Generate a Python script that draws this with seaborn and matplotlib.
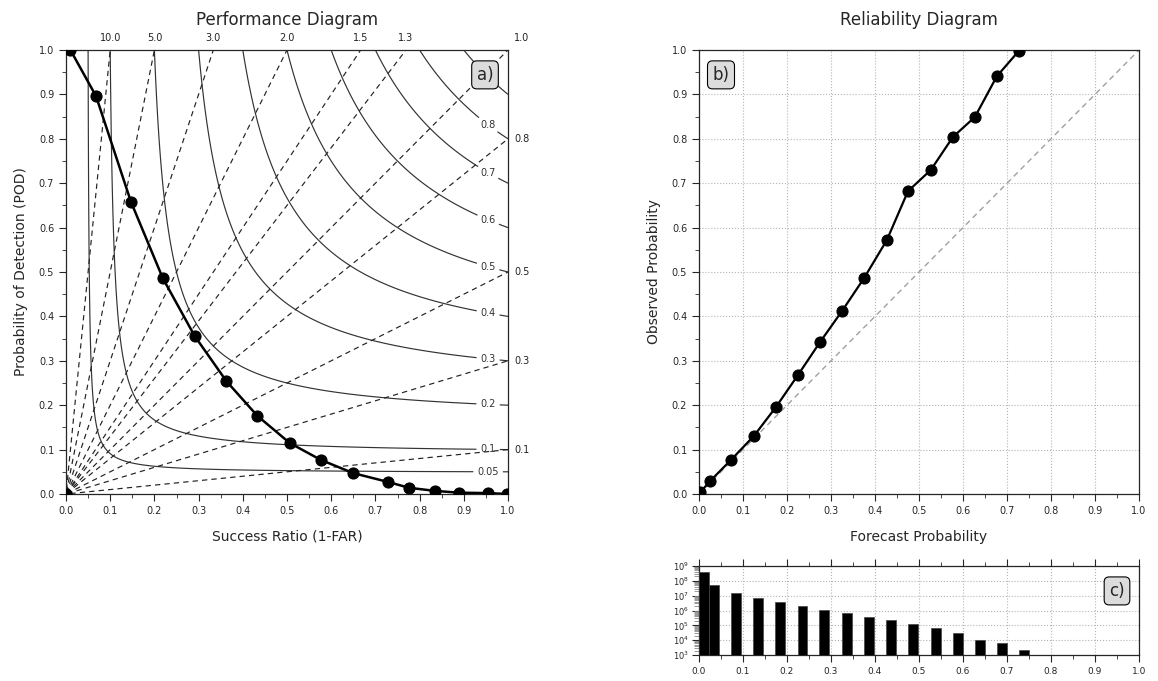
import numpy as np
import matplotlib
matplotlib.use("Agg")
import matplotlib.pyplot as plt
from matplotlib.ticker import MultipleLocator, FixedLocator, LogLocator, NullFormatter, LogFormatterSciNotation
import seaborn as sns
import pandas as pd

# ---- data ----
perf_sr = [0.010, 0.068, 0.147, 0.219, 0.291, 0.363, 0.433, 0.506, 0.576,
           0.650, 0.729, 0.776, 0.835, 0.889, 0.955, 0.998]
perf_pod = [1.0, 0.896, 0.658, 0.486, 0.356, 0.254, 0.176, 0.115, 0.077,
            0.047, 0.027, 0.014, 0.007, 0.003, 0.002, 0.0]
perf_origin_sr = [0.0]
perf_origin_pod = [0.0]
csi_levels = [0.05, 0.1, 0.2, 0.3, 0.4, 0.5, 0.6, 0.7, 0.8, 0.9]
csi_labelled = [0.05, 0.1, 0.2, 0.3, 0.4, 0.5, 0.6, 0.7, 0.8]
bias_levels = [0.1, 0.3, 0.5, 0.8, 1.0, 1.3, 1.5, 2.0, 3.0, 5.0, 10.0]
bias_top_labels = [10.0, 5.0, 3.0, 2.0, 1.5, 1.3, 1.0]
bias_right_labels = [0.8, 0.5, 0.3, 0.1]

rel_fcst = [0.003, 0.025, 0.073, 0.125, 0.175, 0.225, 0.275, 0.325, 0.375,
            0.427, 0.475, 0.527, 0.577, 0.627, 0.677, 0.727]
rel_obs = [0.004, 0.029, 0.077, 0.131, 0.196, 0.268, 0.342, 0.412, 0.486,
           0.572, 0.682, 0.730, 0.804, 0.849, 0.941, 0.998]
hist_counts = [4.2e8, 5.5e7, 1.4e7, 6.9e6, 3.7e6, 2.0e6, 1.07e6, 6.7e5, 3.6e5,
               2.4e5, 1.3e5, 6.9e4, 3.2e4, 1.1e4, 6.1e3, 2.1e3]
hist_left = [0.0, 0.023, 0.073, 0.123, 0.173, 0.224, 0.273, 0.325, 0.375,
             0.425, 0.475, 0.527, 0.577, 0.627, 0.677, 0.727]
hist_yticks = [1e3, 1e4, 1e5, 1e6, 1e7, 1e8, 1e9]

sns.set_style("ticks")
plt.rcParams['font.family'] = ['DejaVu Sans']

W, H = 1158, 681
fig = plt.figure(figsize=(W / 100, H / 100), dpi=100)

def fx(px):
    return px / W

def fy(py):
    return 1 - py / H

ax1 = fig.add_axes([fx(66), fy(494), fx(508) - fx(66), fy(50) - fy(494)])
ax2 = fig.add_axes([fx(699), fy(494), fx(1139) - fx(699), fy(50) - fy(494)])
ax3 = fig.add_axes([fx(699), fy(655), fx(1139) - fx(699), fy(566) - fy(655)])

box = dict(boxstyle="round,pad=0.3", fc="#dcdcdc", ec="black", lw=0.8)

# ---- Performance diagram ----
g = np.linspace(0.001, 1.0, 800)
SR, POD = np.meshgrid(g, g)
CSI = 1.0 / (1.0 / SR + 1.0 / POD - 1.0)
BIAS = POD / SR

cs = ax1.contour(SR, POD, CSI, levels=csi_levels, colors="#333333", linewidths=0.85)
man = [(0.955, 1.0 / (1.0 / c - 1.0 / 0.955 + 1.0)) for c in csi_labelled]
lbls = ax1.clabel(cs, csi_labelled, fmt=lambda v: f"{v:g}", manual=man, inline=True,
                  fontsize=7, inline_spacing=4)
for t in lbls:
    t.set_rotation(0)
bs = ax1.contour(SR, POD, BIAS, levels=bias_levels, colors="#222222", linewidths=0.85,
                 linestyles="--")
bs.set_linestyle((0, (4.5, 3.5)))

for b in bias_top_labels:
    xx = 1.0 / b if b > 1 else 1.03
    ax1.text(xx, 1.027, f"{b:.1f}", transform=ax1.transAxes, ha="center", va="center",
             fontsize=7, color="#222222")
for b in bias_right_labels:
    ax1.text(1.032, b, f"{b:.1f}", transform=ax1.transAxes, ha="center", va="center",
             fontsize=7, color="#222222")

df1 = pd.DataFrame({"sr": perf_sr, "pod": perf_pod})
sns.lineplot(data=df1, x="sr", y="pod", sort=False, ax=ax1, color="black", lw=1.8,
             marker="o", markersize=8, markeredgecolor="black", estimator=None,
             zorder=5)
sns.scatterplot(x=perf_origin_sr, y=perf_origin_pod, ax=ax1, color="black", s=64,
                edgecolor="black", zorder=5)
ax1.set_xlim(0, 1)
ax1.set_ylim(0, 1)
ax1.xaxis.set_major_locator(MultipleLocator(0.1))
ax1.yaxis.set_major_locator(MultipleLocator(0.1))
ax1.xaxis.set_minor_locator(MultipleLocator(0.05))
ax1.yaxis.set_minor_locator(MultipleLocator(0.05))
ax1.tick_params(which="both", direction="out", labelsize=7)
ax1.tick_params(which="major", length=5)
ax1.tick_params(which="minor", length=3)
ax1.set_xlabel("Success Ratio (1-FAR)", fontsize=10, labelpad=10)
ax1.set_ylabel("Probability of Detection (POD)", fontsize=10, labelpad=8)
ax1.set_title("Performance Diagram", fontsize=12, pad=18)
for s in ax1.spines.values():
    s.set_linewidth(0.9)
ax1.text(0.948, 0.944, "a)", transform=ax1.transAxes, ha="center", va="center",
         fontsize=12, bbox=box, zorder=10)

# ---- Reliability diagram ----
ax2.plot([0, 1], [0, 1], ls=(0, (4, 3)), color="#a0a0a0", lw=1)
df2 = pd.DataFrame({"f": rel_fcst, "o": rel_obs})
sns.lineplot(data=df2, x="f", y="o", sort=False, ax=ax2, color="black", lw=1.6,
             marker="o", markersize=8, markeredgecolor="black", estimator=None,
             zorder=5)
ax2.set_xlim(0, 1)
ax2.set_ylim(0, 1)
ax2.xaxis.set_major_locator(MultipleLocator(0.1))
ax2.yaxis.set_major_locator(MultipleLocator(0.1))
ax2.xaxis.set_minor_locator(MultipleLocator(0.05))
ax2.yaxis.set_minor_locator(MultipleLocator(0.05))
ax2.tick_params(which="both", direction="out", labelsize=7)
ax2.tick_params(which="major", length=5)
ax2.tick_params(which="minor", length=3)
ax2.grid(True, which="major", ls=":", color="#b5b5b5", lw=0.8)
ax2.set_axisbelow(True)
ax2.set_xlabel("Forecast Probability", fontsize=10, labelpad=10)
ax2.set_ylabel("Observed Probability", fontsize=10, labelpad=8)
ax2.set_title("Reliability Diagram", fontsize=12, pad=18)
for s in ax2.spines.values():
    s.set_linewidth(0.9)
ax2.text(0.05, 0.944, "b)", transform=ax2.transAxes, ha="center", va="center",
         fontsize=12, bbox=box, zorder=10)

# ---- Histogram ----
ax3.bar(hist_left, hist_counts, width=0.022, align="edge", color="black",
        edgecolor="#444444", lw=0.5, zorder=3)
ax3.set_yscale("log")
ax3.set_ylim(1e3, 1e9)
ax3.set_xlim(0, 1)
ax3.yaxis.set_major_locator(FixedLocator(hist_yticks))
ax3.yaxis.set_major_formatter(LogFormatterSciNotation())
ax3.yaxis.set_minor_locator(LogLocator(base=10, subs=np.arange(2, 10), numticks=20))
ax3.yaxis.set_minor_formatter(NullFormatter())
ax3.xaxis.set_major_locator(MultipleLocator(0.1))
ax3.xaxis.set_minor_locator(MultipleLocator(0.05))
ax3.tick_params(which="both", direction="out", labelsize=6.5, top=True)
ax3.tick_params(which="major", length=5)
ax3.tick_params(which="minor", length=3)
ax3.tick_params(axis="y", which="major", labelsize=6, pad=2)
ax3.tick_params(axis="y", which="minor", length=3.5, color="#888888")
ax3.grid(True, which="major", ls=":", color="#b5b5b5", lw=0.8)
ax3.set_axisbelow(True)
for s in ax3.spines.values():
    s.set_linewidth(0.9)
ax3.text(0.95, 0.72, "c)", transform=ax3.transAxes, ha="center", va="center",
         fontsize=12, bbox=box, zorder=10)

fig.savefig("out.png", dpi=100)
